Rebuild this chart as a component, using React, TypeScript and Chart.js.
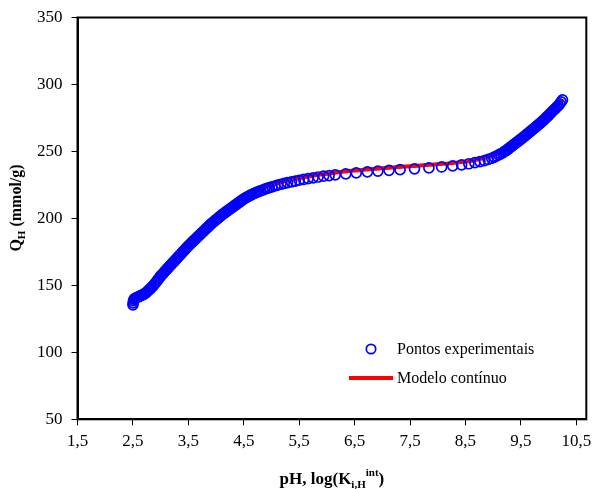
import React, { useEffect, useRef } from "react";
import { Chart, registerables } from "chart.js";

Chart.register(...registerables);

// Experimental points (pH, Q_H)
const expPH = [
  2.5, 2.505, 2.51, 2.52, 2.535, 2.55, 2.575, 2.6, 2.625, 2.65, 2.675, 2.7, 2.725, 2.75, 2.775, 2.8,
  2.825, 2.85, 2.875, 2.9, 2.925, 2.95, 2.975, 3.0, 3.025, 3.05, 3.075, 3.1, 3.125, 3.15, 3.175, 3.2,
  3.225, 3.25, 3.275, 3.3, 3.325, 3.35, 3.375, 3.4, 3.425, 3.45, 3.475, 3.5, 3.525, 3.55, 3.575, 3.6,
  3.625, 3.65, 3.675, 3.7, 3.725, 3.75, 3.775, 3.8, 3.825, 3.85, 3.875, 3.9, 3.925, 3.95, 3.975, 4.0,
  4.025, 4.05, 4.075, 4.1, 4.125, 4.15, 4.175, 4.2, 4.225, 4.25, 4.275, 4.3, 4.325, 4.35, 4.375, 4.4,
  4.425, 4.45, 4.475, 4.5, 4.525, 4.55, 4.575, 4.6, 4.625, 4.65, 4.68, 4.71, 4.74, 4.77, 4.8, 4.84,
  4.88, 4.92, 4.96, 5.01, 5.06, 5.11, 5.17, 5.23, 5.29, 5.36, 5.43, 5.5, 5.58, 5.66, 5.75, 5.84,
  5.94, 6.04, 6.15, 6.34, 6.53, 6.73, 6.92, 7.12, 7.32, 7.58, 7.84, 8.07, 8.27, 8.43, 8.56, 8.67,
  8.76, 8.84, 8.91, 8.97, 9.02, 9.06, 9.1, 9.135, 9.17, 9.2, 9.225, 9.25, 9.275, 9.3, 9.325, 9.35,
  9.375, 9.4, 9.425, 9.45, 9.475, 9.5, 9.525, 9.55, 9.575, 9.6, 9.625, 9.65, 9.675, 9.7, 9.725, 9.75,
  9.775, 9.8, 9.825, 9.85, 9.875, 9.9, 9.925, 9.95, 9.975, 10.0, 10.025, 10.05, 10.075, 10.1, 10.125, 10.15,
  10.175, 10.2, 10.225, 10.25,
];
const expQ = [
  135.5, 137, 138.5, 139.5, 140.2, 140.5, 141, 141.5, 142, 142.5, 143, 143.5, 144.2, 145, 146, 147,
  148, 149, 150.2, 151.5, 152.8, 154.2, 155.6, 157, 158.1, 159.2, 160.4, 161.5, 162.6, 163.8, 164.9, 166,
  167.1, 168.2, 169.4, 170.5, 171.6, 172.8, 173.9, 175, 176.1, 177.2, 178.4, 179.5, 180.5, 181.5, 182.5, 183.5,
  184.5, 185.5, 186.5, 187.5, 188.5, 189.5, 190.5, 191.5, 192.5, 193.5, 194.5, 195.5, 196.4, 197.2, 198.1, 199,
  199.9, 200.8, 201.6, 202.5, 203.3, 204, 204.8, 205.5, 206.3, 207, 207.8, 208.5, 209.3, 210, 210.8, 211.5,
  212.3, 213, 213.8, 214.5, 215.1, 215.7, 216.3, 216.9, 217.4, 217.9, 218.5, 219.1, 219.6, 220.1, 220.6, 221.2,
  221.8, 222.4, 223, 223.6, 224.2, 224.8, 225.5, 226.1, 226.7, 227.3, 227.9, 228.5, 229.1, 229.7, 230.3, 230.9,
  231.5, 232, 232.5, 233.3, 234, 234.7, 235.3, 235.9, 236.4, 237, 237.7, 238.4, 239.2, 240, 240.8, 241.6,
  242.4, 243.2, 244, 244.9, 245.8, 246.6, 247.4, 248.2, 249, 249.8, 250.5, 251.2, 252, 252.8, 253.6, 254.4,
  255.2, 256, 256.8, 257.6, 258.4, 259.2, 260, 260.8, 261.7, 262.5, 263.4, 264.2, 265.1, 265.9, 266.8, 267.6,
  268.5, 269.4, 270.3, 271.2, 272.1, 273, 274, 275, 276, 277, 278.1, 279.2, 280.2, 281.2, 282.2, 283.2,
  284.2, 285.5, 287, 288.5,
];

// Continuous model curve
const modelPH = [2.5, 2.6, 2.7, 2.8, 2.9, 3.0, 3.2, 3.4, 3.6, 3.8, 4.0, 4.2, 4.4, 4.6, 4.8, 5.0, 5.25, 5.5, 5.75, 6.0, 6.5, 7.0, 7.5, 8.0, 8.5, 8.75, 9.0, 9.25, 9.5, 9.75, 10.0, 10.25];
const modelQ = [137, 141.5, 144, 147.5, 152, 157, 166, 175, 183.5, 191.5, 199, 205.5, 211.5, 217.3, 221.6, 225, 227.8, 230.1, 231.9, 233.3, 235.7, 237.5, 239, 240.4, 242.4, 244.4, 247, 252, 259.5, 268, 277.5, 288.5];

const xTicks = [1.5, 2.5, 3.5, 4.5, 5.5, 6.5, 7.5, 8.5, 9.5, 10.5];
const yTicks = [50, 100, 150, 200, 250, 300, 350];
const legendLabels = ["Pontos experimentais", "Modelo contínuo"];

const FONT = "'Liberation Serif', 'Times New Roman', serif";

type Seg = { t: string; size: number; dy: number };

function drawRich(ctx: CanvasRenderingContext2D, segs: Seg[], x: number, y: number, center: boolean) {
  let total = 0;
  for (const s of segs) {
    ctx.font = `bold ${s.size}px ${FONT}`;
    total += ctx.measureText(s.t).width;
  }
  let cx = center ? x - total / 2 : x;
  for (const s of segs) {
    ctx.font = `bold ${s.size}px ${FONT}`;
    ctx.fillText(s.t, cx, y + s.dy);
    cx += ctx.measureText(s.t).width;
  }
}

export default function App() {
  const ref = useRef<HTMLCanvasElement>(null);

  useEffect(() => {
    if (!ref.current) return;
    const overlay = {
      id: "overlay",
      afterDraw(chart: any) {
        const ctx: CanvasRenderingContext2D = chart.ctx;
        const a = chart.chartArea;
        ctx.save();
        // plot frame
        ctx.strokeStyle = "#000";
        ctx.lineWidth = 2;
        ctx.strokeRect(a.left, a.top, a.right - a.left, a.bottom - a.top);

        // legend
        ctx.fillStyle = "#000";
        ctx.textBaseline = "alphabetic";
        ctx.textAlign = "left";
        ctx.font = `16px ${FONT}`;
        ctx.beginPath();
        ctx.arc(371, 349, 4.7, 0, Math.PI * 2);
        ctx.strokeStyle = "#0000ff";
        ctx.lineWidth = 1.7;
        ctx.stroke();
        ctx.fillText(legendLabels[0], 397, 354);
        ctx.beginPath();
        ctx.moveTo(349, 378);
        ctx.lineTo(393, 378);
        ctx.strokeStyle = "#ff0000";
        ctx.lineWidth = 4;
        ctx.stroke();
        ctx.fillText(legendLabels[1], 397, 383);

        // x title
        ctx.fillStyle = "#000";
        drawRich(
          ctx,
          [
            { t: "pH, log(K", size: 17, dy: 0 },
            { t: "i,H", size: 11, dy: 4 },
            { t: "int", size: 11, dy: -8 },
            { t: ")", size: 17, dy: 0 },
          ],
          (a.left + a.right) / 2,
          484,
          true
        );

        // y title
        ctx.save();
        ctx.translate(21, 208);
        ctx.rotate(-Math.PI / 2);
        drawRich(
          ctx,
          [
            { t: "Q", size: 16, dy: 0 },
            { t: "H", size: 11, dy: 4 },
            { t: " (mmol/g)", size: 16, dy: 0 },
          ],
          0,
          0,
          true
        );
        ctx.restore();
        ctx.restore();
      },
    };

    const expData = expPH.map((x, i) => ({ x, y: expQ[i] }));
    const modelData = modelPH.map((x, i) => ({ x, y: modelQ[i] }));

    const chart = new Chart(ref.current, {
      type: "scatter",
      data: {
        datasets: [
          {
            label: legendLabels[0],
            data: expData,
            showLine: false,
            pointStyle: "circle",
            pointRadius: 5,
            pointBorderWidth: 1.7,
            pointBorderColor: "#0000ff",
            pointBackgroundColor: "rgba(0,0,0,0)",
            order: 0,
          },
          {
            label: legendLabels[1],
            data: modelData,
            showLine: true,
            borderColor: "#ff0000",
            borderWidth: 4,
            pointRadius: 0,
            cubicInterpolationMode: "monotone",
            order: 1,
          },
        ],
      },
      options: {
        responsive: false,
        animation: false,
        devicePixelRatio: 1,
        layout: { padding: { top: 17.5, right: 5, left: 0, bottom: 0 } },
        plugins: { legend: { display: false }, tooltip: { enabled: false }, title: { display: false } },
        scales: {
          x: {
            type: "linear",
            min: 1.5,
            max: 10.68,
            afterBuildTicks: (s: any) => {
              s.ticks = xTicks.map((v) => ({ value: v }));
            },
            afterFit: (s: any) => {
              s.height = 69.7;
              s.paddingLeft = 0;
              s.paddingRight = 0;
              s.paddingTop = 0;
              s.paddingBottom = 0;
            },
            ticks: {
              color: "#000",
              font: { family: FONT, size: 17 },
              padding: 6,
              maxRotation: 0,
              autoSkip: false,
              callback: (v: any) => String(v).replace(".", ","),
            },
            grid: { drawOnChartArea: false, drawTicks: true, tickLength: 6, color: "#000", tickColor: "#000" },
            border: { display: true, color: "#000", width: 2 },
          },
          y: {
            type: "linear",
            min: 50,
            max: 350,
            afterBuildTicks: (s: any) => {
              s.ticks = yTicks.map((v) => ({ value: v }));
            },
            afterFit: (s: any) => {
              s.width = 77.5;
              s.paddingLeft = 0;
              s.paddingRight = 0;
              s.paddingTop = 0;
              s.paddingBottom = 0;
            },
            ticks: {
              color: "#000",
              font: { family: FONT, size: 17 },
              padding: 9,
              autoSkip: false,
            },
            grid: { drawOnChartArea: false, drawTicks: true, tickLength: 6, color: "#000", tickColor: "#000" },
            border: { display: true, color: "#000", width: 2 },
          },
        },
      },
      plugins: [overlay],
    } as any);

    return () => chart.destroy();
  }, []);

  return (
    <div style={{ position: "absolute", left: 0, top: 0, width: 593, height: 489, background: "#fff" }}>
      <canvas ref={ref} width={593} height={489} style={{ width: 593, height: 489, display: "block" }} />
    </div>
  );
}
